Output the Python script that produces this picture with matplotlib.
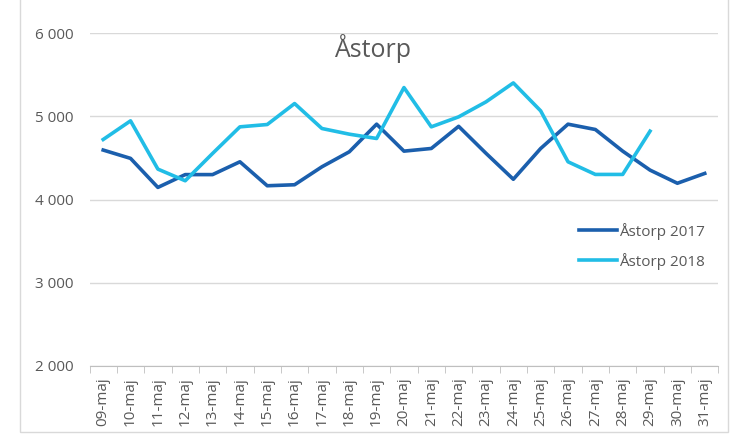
import numpy as np
import matplotlib
matplotlib.use("Agg")
from matplotlib import pyplot as plt
from matplotlib.patches import Rectangle

# data
days = ['09-maj', '10-maj', '11-maj', '12-maj', '13-maj', '14-maj', '15-maj', '16-maj',
        '17-maj', '18-maj', '19-maj', '20-maj', '21-maj', '22-maj', '23-maj', '24-maj',
        '25-maj', '26-maj', '27-maj', '28-maj', '29-maj', '30-maj', '31-maj']
v2017 = [4595, 4495, 4146, 4300, 4300, 4454, 4166, 4178, 4394, 4574, 4906,
         4582, 4614, 4880, 4556, 4244, 4614, 4906, 4842, 4582, 4354, 4196, 4314]
v2018 = [4722, 4946, 4366, 4226, 4554, 4874, 4902, 5154, 4854, 4786, 4734,
         5346, 4874, 4994, 5174, 5402, 5066, 4454, 4302, 4302, 4822]
yticks = [2000, 3000, 4000, 5000, 6000]

plt.rcParams['font.family'] = ['Open Sans', 'DejaVu Sans']
grey = '#595959'

fig = plt.figure(figsize=(7.46, 4.42), dpi=100)
ax = fig.add_axes([0.12, 0.172, 0.843, 0.753])

# outer chart frame
fig.patches.append(Rectangle((0.027, 0.023), 0.949, 1.1, transform=fig.transFigure,
                             fill=False, edgecolor='#d9d9d9', linewidth=1))

x = np.arange(len(days))
ax.plot(x, v2017, color='#1b5fad', linewidth=2.6, label='Åstorp 2017')
ax.plot(np.arange(len(v2018)), v2018, color='#21bde6', linewidth=2.6, label='Åstorp 2018')

ax.set_xlim(-0.5, len(days) - 0.5)
ax.set_ylim(2000, 6000)
ax.set_yticks(yticks)
ax.set_yticklabels([f'{v:,}'.replace(',', ' ') for v in yticks], color=grey, fontsize=11)
ax.set_xticks(x)
ax.set_xticklabels(days, rotation=90, color=grey, fontsize=11)
ax.set_xticks(np.arange(len(days) + 1) - 0.5, minor=True)
ax.tick_params(axis='x', which='major', length=0, pad=8)
ax.tick_params(axis='x', which='minor', length=5, color='#bfbfbf', direction='out')
ax.tick_params(axis='y', length=0, pad=39)
for lbl in ax.get_yticklabels():
    lbl.set_horizontalalignment('left')

ax.grid(axis='y', color='#d9d9d9', linewidth=1)
ax.set_axisbelow(True)
for s in ['left', 'right', 'top']:
    ax.spines[s].set_visible(False)
ax.spines['bottom'].set_color('#bfbfbf')

fig.text(0.5, 0.922, 'Åstorp', ha='center', va='top', fontsize=18, color=grey)

leg = ax.legend(loc='center right', bbox_to_anchor=(1.0, 0.36), frameon=False,
                fontsize=11, handlelength=2.5, handletextpad=0.1, labelspacing=0.85)
for t in leg.get_texts():
    t.set_color(grey)

fig.savefig('out.png', dpi=100)
